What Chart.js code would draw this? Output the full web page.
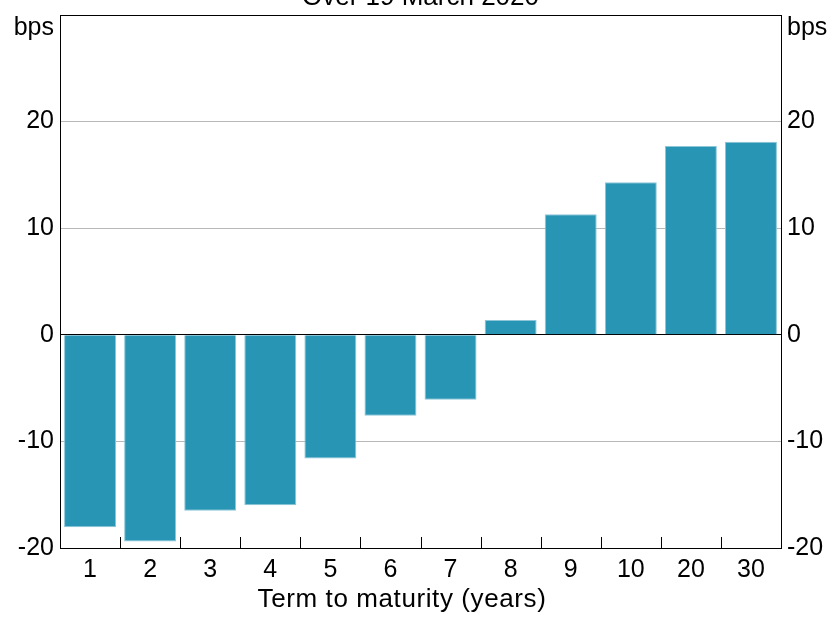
<!DOCTYPE html>
<html><head><meta charset="utf-8">
<script src="https://cdn.jsdelivr.net/npm/chart.js@4.4.1/dist/chart.umd.min.js"></script>
<style>html,body{margin:0;padding:0;background:#fff;overflow:hidden}</style>
</head><body>
<canvas id="c" width="830" height="617"></canvas>
<script>
const categories = ['1','2','3','4','5','6','7','8','9','10','20','30'];
const changes = [-18.05,-19.4,-16.5,-16.0,-11.6,-7.6,-6.1,1.4,11.3,14.3,17.7,18.1];
const yTicks = [-20,-10,0,10,20,30];
const yTickLabels = ['-20','-10','0','10','20','bps'];
const titleText = 'Over 19 March 2020';
const xTitle = 'Term to maturity (years)';

const FONT = '"Liberation Sans", Arial, sans-serif';

function tickLabel(v){
  const i = yTicks.indexOf(v);
  if (i < 0) return '';
  const t = yTickLabels[i];
  return t === 'bps' ? ['', t] : t;
}
function setTicks(scale){ scale.ticks = yTicks.map(v => ({value: v})); }

const extras = {
  id: 'extras',
  afterDraw(chart){
    const ctx = chart.ctx, ca = chart.chartArea, x = chart.scales.x;
    ctx.save();
    ctx.strokeStyle = '#000'; ctx.lineWidth = 1;
    ctx.beginPath(); ctx.moveTo(ca.left, ca.top + 0.5); ctx.lineTo(ca.right, ca.top + 0.5); ctx.stroke();
    for (let i = 1; i < categories.length; i++){
      const px = Math.round((x.getPixelForTick(i-1) + x.getPixelForTick(i)) / 2) + 0.5;
      ctx.beginPath(); ctx.moveTo(px, ca.bottom); ctx.lineTo(px, ca.bottom - 11); ctx.stroke();
    }
    ctx.fillStyle = '#000';
    ctx.font = '26px ' + FONT;
    ctx.textAlign = 'center';
    ctx.textBaseline = 'alphabetic';
    ctx.fillText(titleText, (ca.left + ca.right) / 2, 5);
    if ('letterSpacing' in ctx) ctx.letterSpacing = '0.6px';
    ctx.fillText(xTitle, 402, 607);
    ctx.restore();
  }
};

new Chart(document.getElementById('c'), {
  type: 'bar',
  data: {
    labels: categories,
    datasets: [{
      data: changes,
      backgroundColor: '#2995b5',
      borderColor: '#8cc6d8',
      borderWidth: 1,
      barPercentage: 0.865,
      categoryPercentage: 1.0,
      yAxisID: 'y'
    }]
  },
  options: {
    responsive: false,
    animation: false,
    devicePixelRatio: 1,
    layout: { padding: { top: 15, left: 0, right: 0, bottom: 0 } },
    plugins: { legend: { display: false }, tooltip: { enabled: false }, title: { display: false } },
    scales: {
      x: {
        type: 'category',
        grid: { display: false, drawTicks: false },
        border: { display: true, color: '#000', width: 1 },
        ticks: { color: '#000', font: { size: 25, family: FONT }, padding: 7, maxRotation: 0, autoSkip: false },
        afterFit(s){ s.height = 69; s.paddingLeft = 0; s.paddingRight = 0; }
      },
      y: {
        position: 'left', min: -20, max: 30,
        afterBuildTicks: setTicks,
        grid: {
          drawTicks: false,
          color: c => { const v = c.tick.value; return (v === 0 || v === 30 || v === -20) ? '#000' : '#b8b8b8'; },
          lineWidth: 1
        },
        border: { display: true, color: '#000', width: 1 },
        ticks: { color: '#000', font: { size: 25, family: FONT, lineHeight: 1.04 }, padding: 6, callback: tickLabel },
        afterFit(s){ s.width = 60; s.paddingTop = 0; s.paddingBottom = 0; }
      },
      y2: {
        position: 'right', min: -20, max: 30,
        afterBuildTicks: setTicks,
        grid: { display: false, drawTicks: false },
        border: { display: true, color: '#000', width: 1 },
        ticks: { color: '#000', font: { size: 25, family: FONT, lineHeight: 1.04 }, padding: 6, callback: tickLabel },
        afterFit(s){ s.width = 49; s.paddingTop = 0; s.paddingBottom = 0; }
      }
    }
  },
  plugins: [extras]
});
</script>
</body></html>
